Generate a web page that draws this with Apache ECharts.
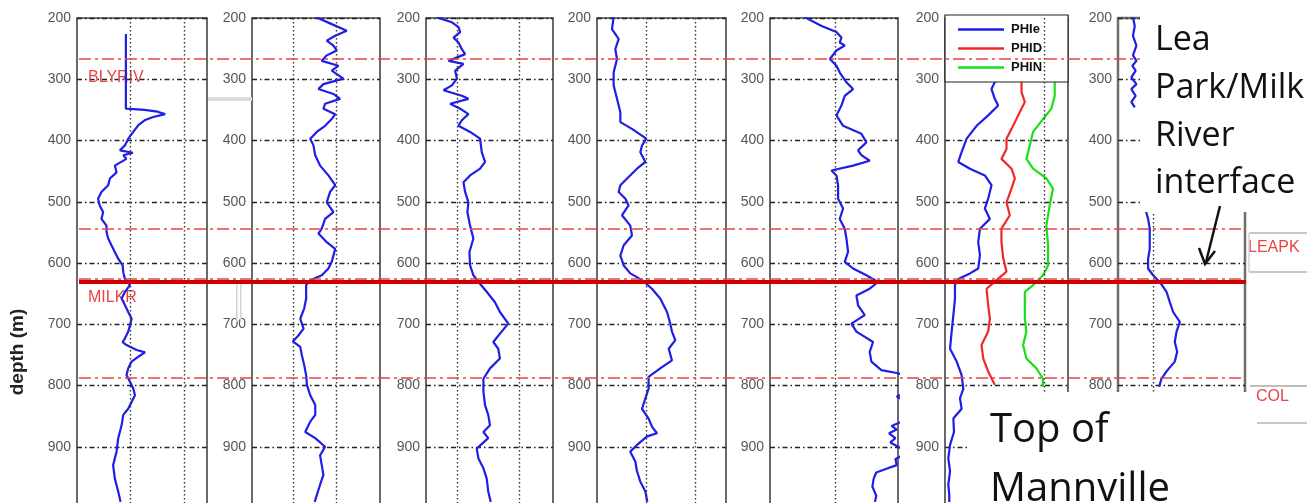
<!DOCTYPE html>
<html><head><meta charset="utf-8">
<script src="https://cdn.jsdelivr.net/npm/echarts@6/dist/echarts.min.js"></script>
<style>html,body{margin:0;padding:0;background:#fff}#c{width:1307px;height:503px}</style>
</head><body><div id="c"></div>
<script>
// ---------- DATA ----------
const depthMin = 200, depthMax = 1000, depthStep = 100;
// each log: [depth (m), value (% of track width)]
const log1 = [[226,37.6],[348,37.6],[350,52],[353,62],[357,67.8],[362,58],[367,52],[375,47.2],[386,43.3],[397,39.4],[408,36.9],[416,33],[420,43],[424,35.6],[430,38],[441,29.1],[452,30.4],[462,25.3],[473,24],[484,18.8],[495,16.2],[506,17.5],[517,20.1],[528,18.8],[539,22.7],[549,22.7],[560,24],[571,26.5],[582,29.1],[593,31.7],[604,35.1],[615,35.6],[626,36.9],[636,40.7],[647,36.9],[658,34.3],[669,36.9],[680,39.4],[691,42],[702,40.7],[712,39.4],[723,36.9],[729,35.1],[734,38.1],[742,45.9],[746,52.3],[753,47.2],[761,42],[772,39.4],[783,38.1],[794,40.7],[805,43.3],[816,44.6],[827,42],[838,39.4],[848,35.6],[865,34.3],[886,31.7],[908,30.4],[930,27.8],[952,29.1],[973,31.7],[990,33.5]];
const log2 = [[199,50.6],[210,62.3],[221,74],[229,65],[237,58.4],[245,63.6],[253,66.2],[261,58.4],[270,54.5],[278,67.5],[286,62.3],[299,71.4],[308,55.8],[316,51.9],[324,63.6],[332,68.8],[340,57.1],[348,55.8],[357,65],[365,62.3],[376,57.1],[386,50.6],[397,45.5],[408,48],[424,49.4],[441,53.2],[457,59.7],[473,65],[484,61],[501,58.4],[517,63.6],[528,57.1],[544,54.5],[552,51.9],[566,58.4],[577,65],[588,63.6],[598,62.3],[609,59.7],[620,54.5],[628,45.5],[636,42.3],[658,42.3],[674,40.8],[691,37.7],[707,40.3],[718,36.4],[728,31.9],[737,37.7],[751,39],[767,40.8],[783,42.3],[799,42.9],[816,45.5],[832,49.4],[848,49.4],[859,45.5],[876,41.6],[886,49.4],[900,57.1],[914,53.2],[930,54.5],[946,55.8],[962,53.2],[979,50.6],[990,49]];
const log3 = [[199,8.6],[207,20.4],[215,25.6],[223,26.9],[232,21.7],[240,25.6],[251,28.2],[259,30.8],[270,17.8],[275,29.5],[286,23],[299,24.3],[310,20.4],[318,13.8],[327,28.2],[332,33.4],[340,19],[348,26.9],[357,33.4],[367,28.2],[376,25.6],[386,34.7],[397,42.6],[419,43.9],[435,46.5],[446,42.6],[457,34.7],[468,29.5],[484,30.8],[501,33.4],[517,32.6],[539,34.7],[560,37.3],[582,34.2],[604,34.7],[620,37.3],[631,41.3],[647,47.8],[664,54.3],[680,58.2],[699,64.8],[712,59.5],[729,53],[740,56.9],[756,58.2],[772,50.4],[789,45.2],[810,45.2],[832,46.5],[848,49],[865,50.4],[876,45.2],[886,49],[903,39.9],[919,41.3],[935,45.2],[952,47.8],[973,49],[990,51]];
const log4 = [[199,12.9],[218,11.6],[234,16.8],[251,14.2],[267,15.5],[289,12.9],[310,12.9],[332,15.5],[354,18.1],[370,18.1],[381,27.1],[397,38.2],[408,34.9],[419,33.6],[435,37.5],[446,31],[462,23.3],[473,18.1],[484,16.8],[495,22],[506,24.5],[522,19.4],[539,25.8],[555,27.1],[571,20.7],[588,18.1],[604,20.7],[617,25.8],[628,34.9],[642,42.6],[658,49],[680,54.3],[699,56.8],[712,58.1],[726,60.7],[740,55.6],[759,58.1],[772,49],[786,40],[805,40],[821,37.5],[838,34.9],[854,40],[867,42.6],[878,46.5],[883,38.8],[897,31],[908,25.8],[924,29.7],[940,31],[957,33.6],[973,37.5],[990,39]];
const log5 = [[199,27.3],[213,40.3],[223,51.9],[232,55.8],[240,54.5],[245,58.4],[253,51.9],[267,46.8],[278,51.9],[289,54.5],[305,59.7],[316,64.9],[327,58.4],[343,55.8],[359,51.9],[376,57.1],[389,71.4],[403,75.3],[416,68.8],[424,71.4],[433,77.9],[441,64.9],[449,48],[457,51.9],[473,53.2],[495,53.2],[511,57.1],[528,54.5],[544,58.4],[560,59.7],[582,61],[598,58.4],[609,64.9],[620,75.3],[631,84.4],[642,77.9],[653,67.5],[669,68.8],[685,74],[699,63.6],[712,67.5],[729,80.5],[745,77.9],[761,79.2],[775,87],[780,100],[790,112],[812,106],[818,99],[826,106],[858,104],[866,95],[872,99],[878,93],[886,98],[893,94],[902,102],[912,106],[920,98],[930,99],[936,91],[942,83],[952,81],[965,80],[980,83],[990,82]];
const phie = [[299,41.9],[316,37.8],[332,40.5],[343,43.2],[359,35.1],[376,25.7],[397,17.6],[419,13.5],[435,10.8],[446,20.3],[457,32.4],[473,37.8],[495,35.1],[511,32.4],[528,36.5],[544,28.4],[566,27],[587,28.4],[609,27],[617,20.3],[626,10.8],[636,8.1],[658,8.1],[685,6.8],[712,5.4],[740,4.1],[761,9.5],[783,13.5],[805,14.9],[821,12.2],[838,13.5],[854,6.8],[876,7.3],[897,4.1],[919,2.7],[940,4.1],[962,2.7],[979,3.5],[990,3.5]];
const phid = [[299,62.2],[321,62.2],[337,64.9],[359,59.5],[381,54.1],[397,50],[414,50],[430,45.9],[446,54.1],[462,56.8],[478,54.1],[501,50],[522,52.7],[544,45.9],[566,45.9],[592,47.3],[614,50],[628,41.9],[642,33.8],[669,35.1],[691,36.5],[712,35.1],[734,29.7],[756,31.1],[777,35.1],[799,40.5]];
const phin = [[299,89.2],[327,89.2],[348,86.5],[365,79.7],[386,71.6],[408,68.9],[430,66.2],[446,71.6],[462,82.4],[478,87.8],[506,85.1],[539,82.4],[571,83.8],[604,83.8],[620,79.7],[636,71.6],[647,64.9],[669,64.9],[691,64.9],[712,66.2],[734,63.5],[756,66.2],[772,74.3],[789,79.7],[802,79.7]];
const log7 = [[199,11.8],[213,13.2],[229,11.8],[245,14.5],[261,11.8],[270,14.5],[278,11.3],[286,13.9],[297,10.5],[308,14.5],[316,10.5],[327,13.9],[337,10.5],[346,13.2],null,[514,21.8],[528,23.7],[544,25],[560,25],[577,25],[593,23.7],[609,23.7],[620,27.6],[631,32.9],[647,38.2],[664,40.8],[680,43.4],[696,48.7],[712,46.1],[729,44.7],[745,46.6],[761,44.7],[777,38.2],[789,34.2],[802,32.4]];
const topNames = ['BLYRIV', 'LEAPK', 'MILKR', 'COL'];
const topDepths = [267, 544, 626, 787];
const interfaceDepth = 631;
const legendNames = ['PHIe', 'PHID', 'PHIN'];

// ---------- LAYOUT / STYLE ----------
const BLUE = '#1e1ee6', RED = '#f02828', GREEN = '#18e018';
const panels = [
  {left: 77,   width: 130, vgrid: [40.8, 82.3], curves: [['GR1', log1, BLUE]]},
  {left: 252,  width: 128, vgrid: [32.5, 66],   curves: [['GR2', log2, BLUE]]},
  {left: 426,  width: 127, vgrid: [24.3, 73.4], curves: [['GR3', log3, BLUE]]},
  {left: 597,  width: 129, vgrid: [38.2, 76.2], curves: [['GR4', log4, BLUE]]},
  {left: 770,  width: 128, vgrid: [50.6],       curves: [['GR5', log5, BLUE]]},
  {left: 945,  width: 123, vgrid: [80.3],       curves: [['PHIe', phie, BLUE], ['PHID', phid, RED], ['PHIN', phin, GREEN]]},
  {left: 1118, width: 127, vgrid: [27.6],       curves: [['GR7', log7, BLUE]], border: '#6e6e6e', bw: 2.5}
];
const labelX = [88, 1248, 88, 1256];

const grids = [], xAxes = [], yAxes = [], series = [];
panels.forEach((p, i) => {
  grids.push({left: p.left, top: 18, width: p.width, height: 490, show: true,
    borderColor: p.border || '#454545', borderWidth: p.bw || 1.6, containLabel: false, outerBoundsMode: 'none'});
  xAxes.push({gridIndex: i, type: 'value', min: 0, max: 100, show: false});
  yAxes.push({gridIndex: i, type: 'value', inverse: true, min: depthMin, max: depthMax, interval: depthStep,
    axisLine: {show: false}, axisTick: {show: false},
    axisLabel: {color: '#555', fontSize: 14, fontFamily: 'Liberation Sans', margin: 6, showMaxLabel: false},
    splitLine: {show: true, lineStyle: {color: '#222', width: 1.4, type: [5, 3, 1.5, 3]}}});
  p.curves.forEach((c, k) => {
    const s = {type: 'line', name: c[0], xAxisIndex: i, yAxisIndex: i,
      data: c[1].map(d => d ? [d[1], d[0]] : ['-', '-']),
      symbol: 'none', showSymbol: false, lineStyle: {color: c[2], width: 2.2}, itemStyle: {color: c[2]},
      z: 3, silent: true, clip: true};
    if (k === 0) {
      s.markLine = {silent: true, symbol: 'none', label: {show: false}, animation: false,
        lineStyle: {color: '#333', type: [1.5, 2.5], width: 1.4},
        data: p.vgrid.map(v => ({xAxis: v}))};
    }
    series.push(s);
  });
});
// overlay grid for formation tops
grids.push({left: 79, top: 18, width: 1167, height: 490, show: false, containLabel: false, outerBoundsMode: 'none'});
xAxes.push({gridIndex: 7, type: 'value', min: 0, max: 1, show: false});
yAxes.push({gridIndex: 7, type: 'value', inverse: true, min: depthMin, max: depthMax, show: false});
series.push({type: 'scatter', name: 'tops', xAxisIndex: 7, yAxisIndex: 7, data: topDepths.map(d => [0, d]),
  symbolSize: 0, z: 10, silent: true,
  markLine: {silent: true, symbol: 'none', label: {show: false}, animation: false,
    data: topDepths.map(d => ({yAxis: d, lineStyle: {color: '#e84444', width: 1.5, type: [12, 4, 3, 4]}}))
      .concat([{yAxis: interfaceDepth, lineStyle: {color: '#cc0000', width: 4, type: 'solid'}}])}});

const option = {
  animation: false,
  backgroundColor: '#fff',
  grid: grids, xAxis: xAxes, yAxis: yAxes, series: series,
  legend: {data: legendNames.map(n => ({name: n, icon: 'rect'})), left: 945, top: 15, orient: 'vertical',
    itemWidth: 46, itemHeight: 2.5, itemGap: 6,
    padding: [8, 26, 8, 13], backgroundColor: '#fff', borderColor: '#222', borderWidth: 1.2,
    textStyle: {fontSize: 13, fontWeight: 'bold', color: '#111', fontFamily: 'Liberation Sans', padding: [0, 0, 0, 2]},
    selectedMode: false}
};

const chart = echarts.init(document.getElementById('c'), null, {renderer: 'canvas'});
chart.setOption(option);

const yOf = d => chart.convertToPixel({gridIndex: 7}, [0, d])[1];
const g = [];
// formation names
topNames.forEach((n, i) => {
  g.push({type: 'text', x: labelX[i], y: yOf(topDepths[i]) + 19, z: 1,
    style: {text: n, font: '16px "Liberation Sans"', fill: '#e84444', align: 'left', verticalAlign: 'middle'}});
});
// depth axis title
g.push({type: 'text', x: 18, y: 352, rotation: Math.PI / 2, z: 60,
  style: {text: 'depth (m)', font: 'bold 19px "Liberation Sans"', fill: '#222', align: 'center', verticalAlign: 'middle'}});
// light grey artefacts
const grey = '#d2d2d2';
g.push({type: 'rect', shape: {x: 208, y: 97, width: 44, height: 4}, style: {fill: '#dcdcdc'}, z: 60});
g.push({type: 'rect', shape: {x: 236, y: 284, width: 1.5, height: 38}, style: {fill: grey}, z: 60});
g.push({type: 'rect', shape: {x: 240, y: 284, width: 1.5, height: 38}, style: {fill: grey}, z: 60});
// white annotation boxes
g.push({type: 'rect', shape: {x: 1140, y: 0, width: 167, height: 212}, style: {fill: '#fff'}, z: 50});
g.push({type: 'rect', shape: {x: 968, y: 392, width: 282, height: 111}, style: {fill: '#fff'}, z: 50});
// right column boxes
const lineEl = (x1, y1, x2, y2, c, w) => ({type: 'line', shape: {x1, y1, x2, y2}, style: {stroke: c, lineWidth: w}, z: 60});
g.push(lineEl(1249, 233, 1307, 233, '#c8c8c8', 2));
g.push(lineEl(1249, 272, 1307, 272, '#c8c8c8', 2));
g.push(lineEl(1249, 233, 1249, 272, '#d0d0d0', 1.5));
g.push(lineEl(1250, 386, 1307, 386, '#bdbdbd', 2));
g.push(lineEl(1257, 423, 1307, 423, '#c8c8c8', 2));
// annotation texts
const big = (t, x, y, size) => ({type: 'text', x: x, y: y, z: 60,
  style: {text: t, font: size + 'px "Open Sans"', fill: '#111', align: 'left', verticalAlign: 'middle'}});
g.push(big('Lea', 1155, 40, 34));
g.push(big('Park/Milk', 1155, 88, 34));
g.push(big('River', 1155, 136, 34));
g.push(big('interface', 1155, 183, 34));
g.push(big('Top of', 990, 431, 40));
g.push(big('Mannville', 990, 490, 40));
// arrow
g.push(lineEl(1220, 206, 1206, 262, '#111', 2.5));
g.push({type: 'polyline', shape: {points: [[1199, 248], [1205, 264], [1215, 251]]}, style: {stroke: '#111', lineWidth: 2.5, fill: null}, z: 60});

chart.setOption({graphic: {elements: g}});
</script></body></html>
